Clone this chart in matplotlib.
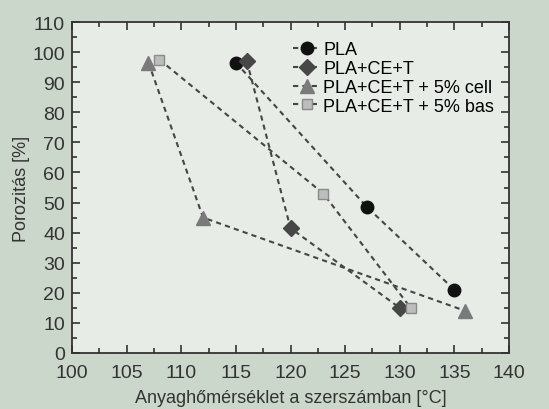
import numpy as np
import matplotlib.pyplot as plt
from matplotlib.ticker import MultipleLocator

plt.rcParams['font.family'] = ['Liberation Sans', 'DejaVu Sans']

# data
pla_x = [115, 127, 135]
pla_y = [96.5, 48.5, 21]
cet_x = [116, 120, 130]
cet_y = [97, 41.5, 15]
cell_x = [107, 112, 136]
cell_y = [96.5, 45, 14]
bas_x = [108, 123, 131]
bas_y = [97.5, 53, 15]

bg = '#ccd7cc'
fig = plt.figure(figsize=(5.49, 4.10), dpi=100, facecolor=bg)
ax = fig.add_axes([72/549, 1-354/410, (509-72)/549, (354-23)/410])
ax.set_facecolor('#e7ece7')

ls = dict(linestyle='--', color='#454545', lw=1.5, dashes=(2.5, 2))
ax.plot(pla_x, pla_y, marker='o', ms=9, mfc='#111111', mec='#111111', label='PLA', **ls)
ax.plot(cet_x, cet_y, marker='D', ms=8.5, mfc='#474747', mec='#474747', label='PLA+CE+T', **ls)
ax.plot(cell_x, cell_y, marker='^', ms=10, mfc='#7a7a7a', mec='#7a7a7a', label='PLA+CE+T + 5% cell', **ls)
ax.plot(bas_x, bas_y, marker='s', ms=7.5, mfc='#bdbdbd', mec='#8a8a8a', label='PLA+CE+T + 5% bas', **ls)

ax.set_xlim(100, 140)
ax.set_ylim(0, 110)
ax.xaxis.set_major_locator(MultipleLocator(5))
ax.xaxis.set_minor_locator(MultipleLocator(2.5))
ax.yaxis.set_major_locator(MultipleLocator(10))
ax.yaxis.set_minor_locator(MultipleLocator(5))
ax.tick_params(which='both', direction='in', top=True, right=True, colors='#333333',
               labelcolor='#333333', labelsize=14, width=1.2)
ax.tick_params(which='major', length=6)
ax.tick_params(which='minor', length=3.5)
ax.tick_params(axis='x', which='major', pad=8)
ax.tick_params(axis='y', which='major', pad=5)
for s in ax.spines.values():
    s.set_color('#333333')
    s.set_linewidth(1.3)

ax.set_xlabel('Anyaghőmérséklet a szerszámban [°C]', fontsize=13, color='#333333', labelpad=6)
ax.set_ylabel('Porozitás [%]', fontsize=13, color='#333333', labelpad=2)

ax.legend(loc='upper right', frameon=False, fontsize=13, handlelength=1.6,
          handletextpad=0.1, labelspacing=0.1, borderaxespad=0.3,
          bbox_to_anchor=(0.995, 0.98))

fig.savefig('out.png', dpi=100, facecolor=bg)
